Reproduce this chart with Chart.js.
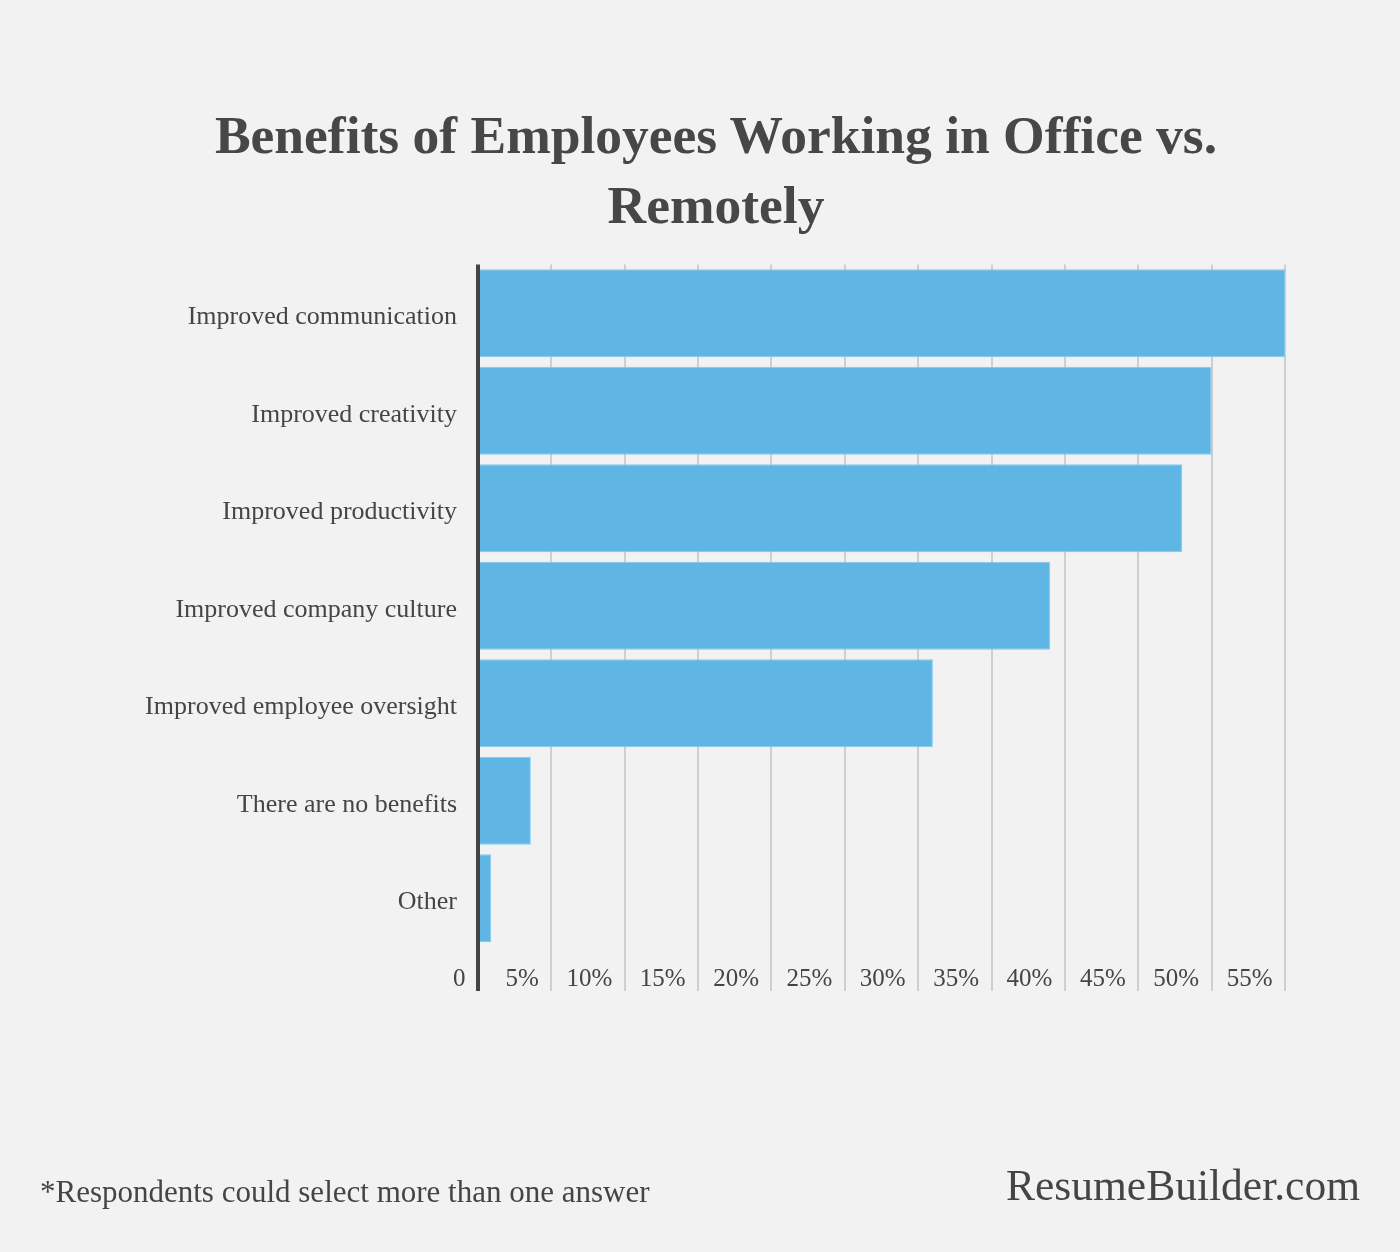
<!DOCTYPE html>
<html>
<head>
<meta charset="utf-8">
<script src="https://cdn.jsdelivr.net/npm/chart.js@4/dist/chart.umd.min.js"></script>
<style>
  html, body { margin: 0; padding: 0; background: #f2f2f2; }
  #wrap { position: relative; width: 1400px; height: 1252px; background: #f2f2f2; overflow: hidden; }
  #c { position: absolute; left: 0; top: 0; }
  .note { position: absolute; font-family: 'Liberation Serif', serif; color: #454545; white-space: nowrap; }
  #title { left: 0; width: 1432px; top: 100px; text-align: center; font-size: 53.5px; font-weight: bold; line-height: 70px; color: #474747; }
  #foot { left: 40px; top: 1174px; font-size: 31px; line-height: 36px; }
  #brand { right: 40px; top: 1160px; font-size: 43.5px; line-height: 50px; }
</style>
</head>
<body>
<div id="wrap">
  <canvas id="c" width="1400" height="1252"></canvas>
  <div class="note" id="title"></div>
  <div class="note" id="foot">*Respondents could select more than one answer</div>
  <div class="note" id="brand">ResumeBuilder.com</div>
</div>
<script>
const titleLines = ['Benefits of Employees Working in Office vs.', 'Remotely'];
const categories = [
  'Improved communication',
  'Improved creativity',
  'Improved productivity',
  'Improved company culture',
  'Improved employee oversight',
  'There are no benefits',
  'Other'
];
const percentValues = [55, 50, 48, 39, 31, 3.6, 0.9];
const tickMin = 0;
const tickMax = 55;
const tickStep = 5;

const textColor = '#454545';

const titleEl = document.getElementById('title');
titleLines.forEach((t, i) => {
  if (i > 0) titleEl.appendChild(document.createElement('br'));
  titleEl.appendChild(document.createTextNode(t));
});

new Chart(document.getElementById('c'), {
  type: 'bar',
  data: {
    labels: categories,
    datasets: [{
      data: percentValues,
      backgroundColor: '#5fb6e4',
      borderColor: '#86c8ec',
      borderWidth: 1,
      borderSkipped: 'left',
      categoryPercentage: 1.0,
      barPercentage: 0.9026
    }]
  },
  options: {
    indexAxis: 'y',
    responsive: false,
    animation: false,
    devicePixelRatio: 1,
    layout: { padding: { top: 264.5, left: 0, right: 115, bottom: 205 } },
    plugins: {
      legend: { display: false },
      tooltip: { enabled: false },
      title: { display: false }
    },
    scales: {
      x: {
        type: 'linear',
        position: 'bottom',
        min: tickMin,
        max: tickMax,
        afterFit: (s) => { s.height = 100; },
        border: { display: false },
        grid: {
          display: true,
          drawOnChartArea: true,
          drawTicks: true,
          tickLength: 44,
          color: (ctx) => (ctx.tick && ctx.tick.value === 0) ? '#444444' : '#cfcfcf',
          tickColor: (ctx) => (ctx.tick && ctx.tick.value === 0) ? '#444444' : '#cfcfcf',
          lineWidth: (ctx) => (ctx.tick && ctx.tick.value === 0) ? 4 : 2
        },
        ticks: {
          stepSize: tickStep,
          autoSkip: false,
          maxRotation: 0,
          align: 'end',
          padding: -27,
          color: textColor,
          font: { family: 'Liberation Serif', size: 25 },
          callback: (v) => (v === 0 ? '0' : v + '%') + '\u2002'
        }
      },
      y: {
        afterFit: (s) => { s.width = 478; },
        border: { display: false },
        grid: { display: false, drawTicks: false },
        ticks: {
          padding: 21,
          color: textColor,
          font: { family: 'Liberation Serif', size: 26, lineHeight: '8px' },
          callback: function (v) { return ['', this.getLabelForValue(v)]; }
        }
      }
    }
  }
});
</script>
</body>
</html>
